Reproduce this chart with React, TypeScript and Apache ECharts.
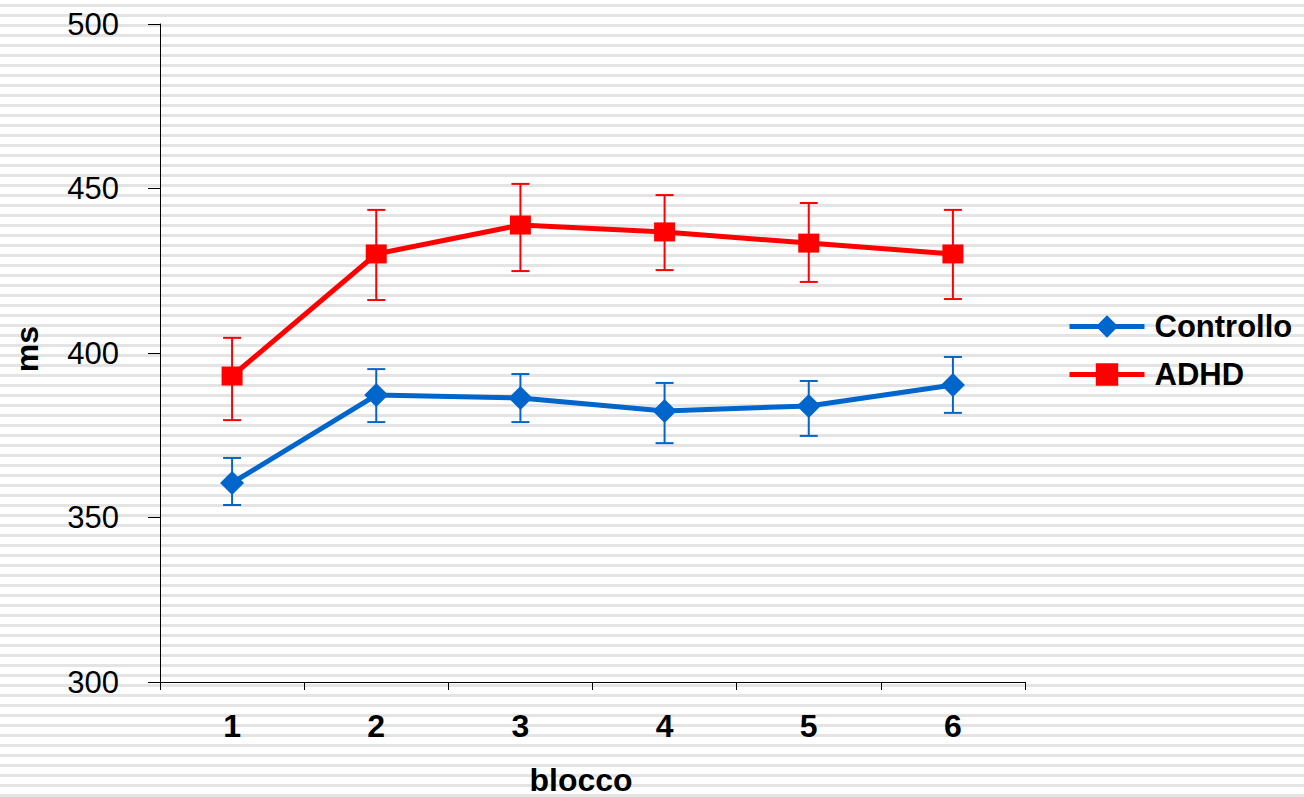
import React, { useEffect, useRef } from "react";
import * as echarts from "echarts";

const categories = ["1", "2", "3", "4", "5", "6"];
const yTicks = [300, 350, 400, 450, 500];

const controlloMean = [360.5, 387.2, 386.3, 382.4, 383.9, 390.3];
const controlloLow = [353.8, 379.0, 379.0, 372.6, 374.8, 381.8];
const controlloHigh = [368.1, 395.1, 393.6, 390.9, 391.5, 398.8];

const adhdMean = [393.0, 430.1, 438.9, 436.8, 433.4, 430.1];
const adhdLow = [379.6, 416.1, 424.9, 425.2, 421.6, 416.4];
const adhdHigh = [404.6, 443.5, 451.4, 448.0, 445.6, 443.5];

const BLUE = "#0066CC";
const RED = "#FF0000";
const FONT = "Liberation Sans, Arial, sans-serif";

function errorSeries(name: string, low: number[], high: number[], color: string) {
  return {
    type: "custom",
    name: name + "-err",
    z: 1,
    silent: true,
    data: low.map((l, i) => [i, l, high[i]]),
    renderItem: (params: any, api: any) => {
      const x = api.value(0);
      const lo = api.coord([x, api.value(1)]);
      const hi = api.coord([x, api.value(2)]);
      const cap = 9;
      const style = { stroke: color, lineWidth: 2 };
      return {
        type: "group",
        children: [
          { type: "line", shape: { x1: lo[0], y1: lo[1], x2: hi[0], y2: hi[1] }, style },
          { type: "line", shape: { x1: hi[0] - cap, y1: hi[1], x2: hi[0] + cap, y2: hi[1] }, style },
          { type: "line", shape: { x1: lo[0] - cap, y1: lo[1], x2: lo[0] + cap, y2: lo[1] }, style },
        ],
      };
    },
  };
}

export default function App() {
  const ref = useRef<HTMLDivElement>(null);
  useEffect(() => {
    document.body.style.margin = "0";
    const chart = echarts.init(ref.current!, null, { renderer: "svg" });
    chart.setOption({
      animation: false,
      textStyle: { fontFamily: FONT },
      grid: { left: 160, right: 279, top: 24, bottom: 115, containLabel: false },
      legend: {
        orient: "vertical",
        left: 1062,
        top: 306,
        itemWidth: 75,
        itemHeight: 28,
        itemGap: 17,
        lineStyle: { width: 5 },
        data: ["Controllo", "ADHD"],
        textStyle: { fontFamily: FONT, fontSize: 31, fontWeight: "bold", color: "#000", padding: [0, 0, 0, 5] },
      },
      xAxis: {
        type: "category",
        data: categories,
        boundaryGap: true,
        axisLine: { lineStyle: { color: "#000", width: 1 } },
        axisTick: { show: true, length: 8, lineStyle: { color: "#000" } },
        axisLabel: { margin: 28, fontSize: 32, fontWeight: "bold", color: "#000", fontFamily: FONT },
        splitLine: { show: false },
      },
      yAxis: {
        type: "value",
        min: 300,
        max: 500,
        interval: 50,
        axisLine: { show: true, lineStyle: { color: "#000", width: 1 } },
        axisTick: { show: true, length: 12, lineStyle: { color: "#000" } },
        axisLabel: {
          margin: 41,
          fontSize: 31,
          color: "#000",
          fontFamily: FONT,
          formatter: (v: number) => (yTicks.includes(v) ? String(v) : ""),
        },
        splitLine: { show: false },
      },
      graphic: [
        {
          type: "text",
          x: 581,
          y: 780,
          style: { text: "blocco", fontSize: 32, fontWeight: "bold", fill: "#000", fontFamily: FONT, align: "center", verticalAlign: "middle" },
        },
        {
          type: "text",
          x: 27,
          y: 349,
          rotation: Math.PI / 2,
          style: { text: "ms", fontSize: 32, fontWeight: "bold", fill: "#000", fontFamily: FONT, align: "center", verticalAlign: "middle" },
        },
      ],
      series: [
        errorSeries("Controllo", controlloLow, controlloHigh, BLUE),
        errorSeries("ADHD", adhdLow, adhdHigh, RED),
        {
          name: "Controllo",
          type: "line",
          z: 3,
          data: controlloMean,
          symbol: "diamond",
          symbolSize: [24, 24],
          lineStyle: { color: BLUE, width: 5 },
          itemStyle: { color: BLUE },
        },
        {
          name: "ADHD",
          type: "line",
          z: 3,
          data: adhdMean,
          symbol: "rect",
          symbolSize: [21, 19],
          lineStyle: { color: RED, width: 5 },
          itemStyle: { color: RED },
        },
      ],
    });
    return () => chart.dispose();
  }, []);
  return (
    <div
      ref={ref}
      style={{
        position: "absolute",
        left: 0,
        top: 0,
        width: 1304,
        height: 797,
        background: "repeating-linear-gradient(to bottom, #ffffff 0px, #ffffff 4px, #e4e4e4 4px, #e4e4e4 7px, #ffffff 7px, #ffffff 10px)",
      }}
    />
  );
}
